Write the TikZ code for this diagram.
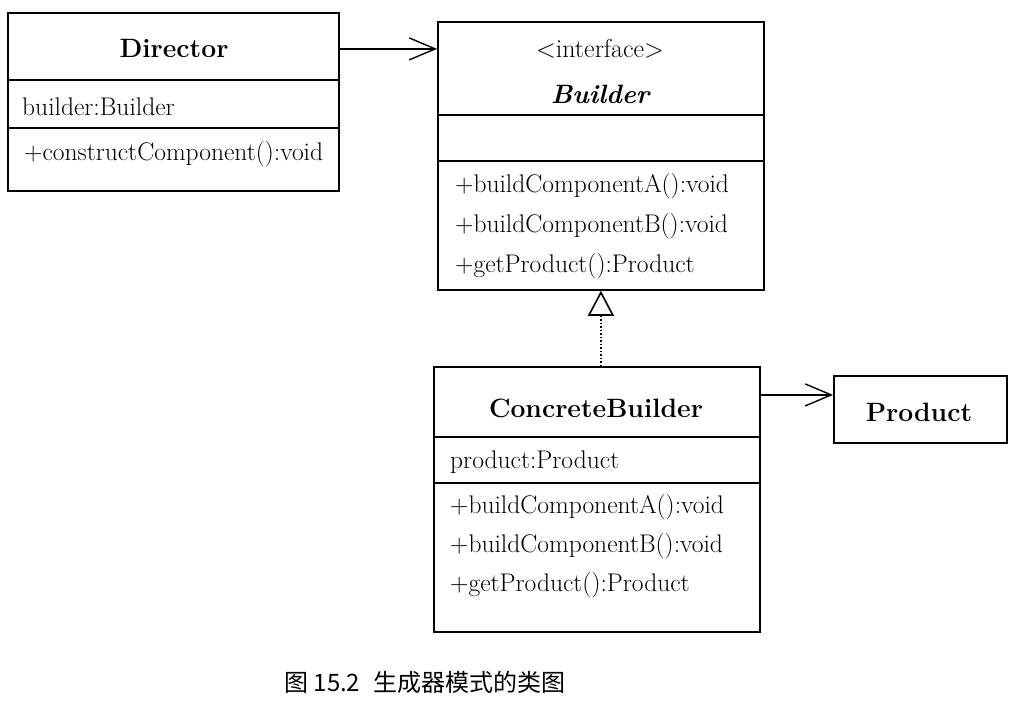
\documentclass[tikz,border=0pt]{standalone}
\usepackage{fontspec}
\usetikzlibrary{arrows.meta}
\newfontfamily\cjk{Noto Sans CJK SC}

\begin{document}
\begin{tikzpicture}[x=1pt, y=-1pt,
    box/.style={draw, line width=1.8pt, inner sep=0pt, anchor=north west, minimum width=#1},
    title/.style={inner sep=0pt, font=\fontsize{26.5}{30}\selectfont\bfseries},
    member/.style={anchor=west, inner sep=0pt, font=\fontsize{25.5}{28}\selectfont},
    assoc/.style={line width=1.4pt, -{Straight Barb[length=26pt, width=22pt, line width=1.4pt]}},
    real/.style={line width=1.4pt, dash pattern=on 1.5pt off 2pt, -{Triangle[open, length=25pt, width=26pt, line width=1.6pt]}}]
      \useasboundingbox (0,0) rectangle (1013,702);
      \node[box=331pt, minimum height=67pt] (director) at (7,12) {};
      \node[box=331pt, minimum height=48pt] (directorattr) at (7,79) {};
      \node[box=331pt, minimum height=63pt] (directorops) at (7,127) {};
      \node[title] (directorname) at (174,48) {Director};
      \node[member] (directorfield) at (22,107) {builder:Builder};
      \node[member] (directorop) at (24,154) {+constructComponent():void};

      \node[box=326pt, minimum height=93pt] (builder) at (437,21) {};
      \node[box=326pt, minimum height=46pt] (builderattr) at (437,114) {};
      \node[box=326pt, minimum height=129pt] (builderops) at (437,160) {};
      \node[inner sep=0pt, font=\fontsize{26}{30}\selectfont] (stereotype) at (600,49) {<interface>};
      \node[title] (buildername) at (600,94) {\itshape Builder};
      \foreach \txt [count=\i] in {{+buildComponentA():void}, {+buildComponentB():void}, {+getProduct():Product}}{
          \node[member] (builderop\i) at (455,146+40*\i) {\txt};
      }

      \node[box=326pt, minimum height=70pt] (concrete) at (433,366) {};
      \node[box=326pt, minimum height=46pt] (concreteattr) at (433,436) {};
      \node[box=326pt, minimum height=149pt] (concreteops) at (433,482) {};
      \node[title] (concretename) at (596,408) {ConcreteBuilder};
      \node[member] (concretefield) at (450,462) {product:Product};
      \foreach \txt [count=\i] in {{+buildComponentA():void}, {+buildComponentB():void}, {+getProduct():Product}}{
          \node[member] (concreteop\i) at (450,468+39*\i) {\txt};
      }

      \node[box=173pt, minimum height=67pt] (product) at (833,375) {};
      \node[title] (productname) at (919,412) {Product};

      \coordinate (dirarrow) at ([yshift=-2.5pt]director.east);
      \draw[assoc] (dirarrow) -- (dirarrow -| builder.west);
      \coordinate (cbarrow) at ([yshift=7pt]concrete.east);
      \draw[assoc] (cbarrow) -- (cbarrow -| product.west);
      \draw[real] (builderops.south |- concrete.north) -- (builderops.south);

      \node[font=\cjk\fontsize{24}{28}\selectfont] (caption) at (425,682) {图 15.2\hspace{8pt} 生成器模式的类图};
  \end{tikzpicture}
\end{document}
